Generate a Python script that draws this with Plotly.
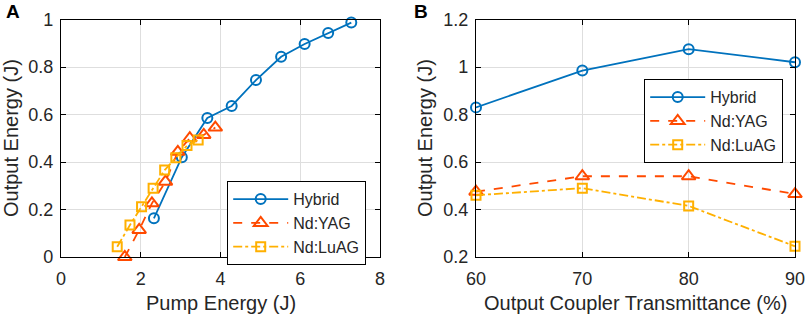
import plotly.graph_objects as go

# Panel A data
hyb_pump = [2.33, 3.03, 3.67, 4.28, 4.89, 5.52, 6.11, 6.70, 7.28]
hyb_out = [0.163, 0.42, 0.585, 0.636, 0.745, 0.843, 0.897, 0.943, 0.987]
yag_pump = [1.60, 1.96, 2.28, 2.62, 2.93, 3.23, 3.58, 3.87]
yag_out = [0.0, 0.114, 0.226, 0.317, 0.443, 0.50, 0.514, 0.545]
luag_pump = [1.41, 1.73, 2.02, 2.31, 2.60, 2.88, 3.16, 3.44]
luag_out = [0.043, 0.135, 0.212, 0.289, 0.366, 0.418, 0.469, 0.493]

# Panel B data
trans = [60, 70, 80, 90]
hyb_b = [0.83, 0.985, 1.075, 1.02]
yag_b = [0.475, 0.54, 0.54, 0.465]
luag_b = [0.46, 0.49, 0.415, 0.245]

names = ["Hybrid", "Nd:YAG", "Nd:LuAG"]
colors = ["#0072BD", "#FF4A00", "#FFB000"]
dashes = ["solid", "dash", "dashdot"]
symbols = ["circle-open", "triangle-up-open", "square-open"]
msizes = [10, 12, 9]

W, H = 806, 314


def px(p):
    return p / W


def py(p):
    return 1 - p / H


fig = go.Figure()
setsA = [(hyb_pump, hyb_out), (yag_pump, yag_out), (luag_pump, luag_out)]
setsB = [(trans, hyb_b), (trans, yag_b), (trans, luag_b)]
for i in range(3):
    fig.add_trace(go.Scatter(
        x=setsA[i][0], y=setsA[i][1], name=names[i], mode="lines+markers",
        line=dict(color=colors[i], width=1.8, dash=dashes[i]),
        marker=dict(symbol=symbols[i], size=msizes[i], color=colors[i],
                    line=dict(width=2, color=colors[i])),
        xaxis="x", yaxis="y", legend="legend", cliponaxis=False))
for i in range(3):
    fig.add_trace(go.Scatter(
        x=setsB[i][0], y=setsB[i][1], name=names[i], mode="lines+markers",
        line=dict(color=colors[i], width=1.8, dash=dashes[i]),
        marker=dict(symbol=symbols[i], size=msizes[i], color=colors[i],
                    line=dict(width=2, color=colors[i])),
        xaxis="x2", yaxis="y2", legend="legend2", cliponaxis=False))

font_fam = "Liberation Sans, Arial, sans-serif"
txt = "#262626"
axis_common = dict(showline=True, linecolor="black", linewidth=1.3, mirror="ticks",
                   ticks="inside", ticklen=5, tickcolor="black", tickwidth=1.2,
                   showgrid=True, gridcolor="#DEDEDE", gridwidth=1, zeroline=False,
                   automargin=False,
                   tickfont=dict(size=18, color=txt))

ydom = [py(257), py(19.5)]


def ann(text, x, y, size=20, angle=0, bold=False):
    return dict(text=("<b>%s</b>" % text) if bold else text, x=px(x), y=py(y),
                xref="paper", yref="paper", xanchor="center", yanchor="middle",
                showarrow=False, textangle=angle, font=dict(size=size, color=txt if not bold else "black"))


fig.update_layout(
    width=W, height=H,
    margin=dict(l=0, r=0, t=0, b=0),
    paper_bgcolor="white", plot_bgcolor="white",
    font=dict(family=font_fam, color=txt),
    xaxis=dict(domain=[px(61), px(380)], range=[0, 8], dtick=2, anchor="y",
               ticklabelstandoff=5, **axis_common),
    yaxis=dict(domain=ydom, range=[0, 1], dtick=0.2, tickformat="~g", anchor="x",
               ticklabelstandoff=3, **axis_common),
    xaxis2=dict(domain=[px(476), px(795)], range=[60, 90], dtick=10, anchor="y2",
                ticklabelstandoff=5, **axis_common),
    yaxis2=dict(domain=ydom, range=[0.2, 1.2], dtick=0.2, tickformat="~g", anchor="x2",
                ticklabelstandoff=3, **axis_common),
    legend=dict(x=px(227), y=py(181), xanchor="left", yanchor="top",
                bgcolor="white", bordercolor="black", borderwidth=1.2,
                font=dict(size=16, color=txt), itemwidth=55,
                tracegroupgap=0),
    legend2=dict(x=px(644), y=py(79), xanchor="left", yanchor="top",
                 bgcolor="white", bordercolor="black", borderwidth=1.2,
                 font=dict(size=16, color=txt), itemwidth=55,
                 tracegroupgap=0),
    annotations=[
        ann("A", 13, 12, size=19, bold=True),
        ann("B", 421, 12, size=19, bold=True),
        ann("Pump Energy (J)", 220.5, 303),
        ann("Output Coupler Transmittance (%)", 635.5, 303),
        ann("Output Energy (J)", 11, 138, angle=-90),
        ann("Output Energy (J)", 425, 138, angle=-90),
    ],
)

fig.write_html("out.html", config={"displayModeBar": False},
               post_script="document.body.style.margin='0';document.body.style.overflow='hidden';")
